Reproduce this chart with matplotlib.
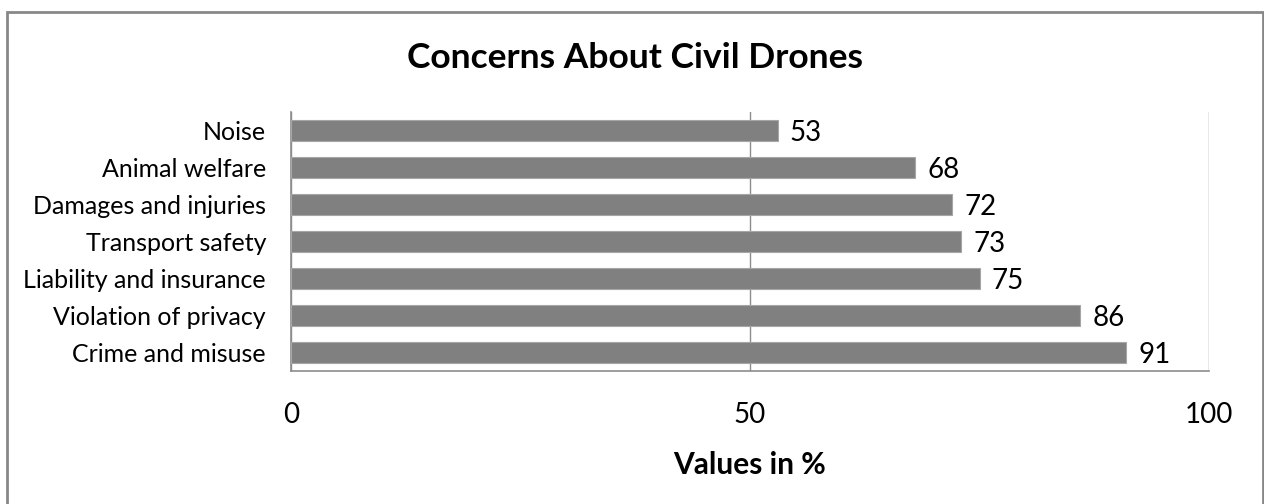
import matplotlib.pyplot as plt
import matplotlib.patches as mpatches

categories = ["Crime and misuse", "Violation of privacy", "Liability and insurance",
              "Transport safety", "Damages and injuries", "Animal welfare", "Noise"]
values = [91, 86, 75, 73, 72, 68, 53]
xticks = [0, 50, 100]

plt.rcParams['font.family'] = ['Lato', 'DejaVu Sans']

fig = plt.figure(figsize=(12.64, 5.04), dpi=100)
ax = fig.add_axes([291 / 1264, 1 - 371 / 504, 918 / 1264, 259 / 504])

ypos = list(range(len(categories)))
ax.barh(ypos, values, height=0.58, color="#808080", edgecolor="#a6a6a6", linewidth=0.8, zorder=3)
for y, v in zip(ypos, values):
    ax.text(v + 1.35, y - 0.06, str(v), va="center", ha="left", fontsize=20, color="#000000")

ax.set_xlim(0, 100)
ax.set_ylim(-0.5, len(categories) - 0.5)
ax.set_yticks(ypos)
ax.set_yticklabels(categories, fontsize=18)
ax.set_xticks(xticks)
ax.set_xticklabels([str(t) for t in xticks], fontsize=20)
ax.tick_params(axis="both", length=0)
ax.tick_params(axis="x", pad=22)
ax.tick_params(axis="y", pad=18)

for s in ["top", "right"]:
    ax.spines[s].set_visible(False)
for s in ["left", "bottom"]:
    ax.spines[s].set_color("#8c8c8c")
    ax.spines[s].set_linewidth(1.2)
ax.xaxis.grid(True, color="#8c8c8c", linewidth=1.0, zorder=0)
ax.set_axisbelow(True)

ax.set_xlabel("Values in %", fontsize=21.5, fontweight="bold", labelpad=17)
fig.text(635 / 1264, 1 - 68 / 504, "Concerns About Civil Drones", ha="center", va="baseline",
         fontsize=25.5, fontweight="bold")

# outer chart border (open at the bottom)
border = mpatches.Rectangle((7 / 1264, -0.05), (1263 - 7) / 1264, (504 - 12) / 504 + 0.05,
                            transform=fig.transFigure, fill=False, edgecolor="#888888",
                            linewidth=2.0)
fig.patches.append(border)

fig.savefig("out.png", dpi=100)
